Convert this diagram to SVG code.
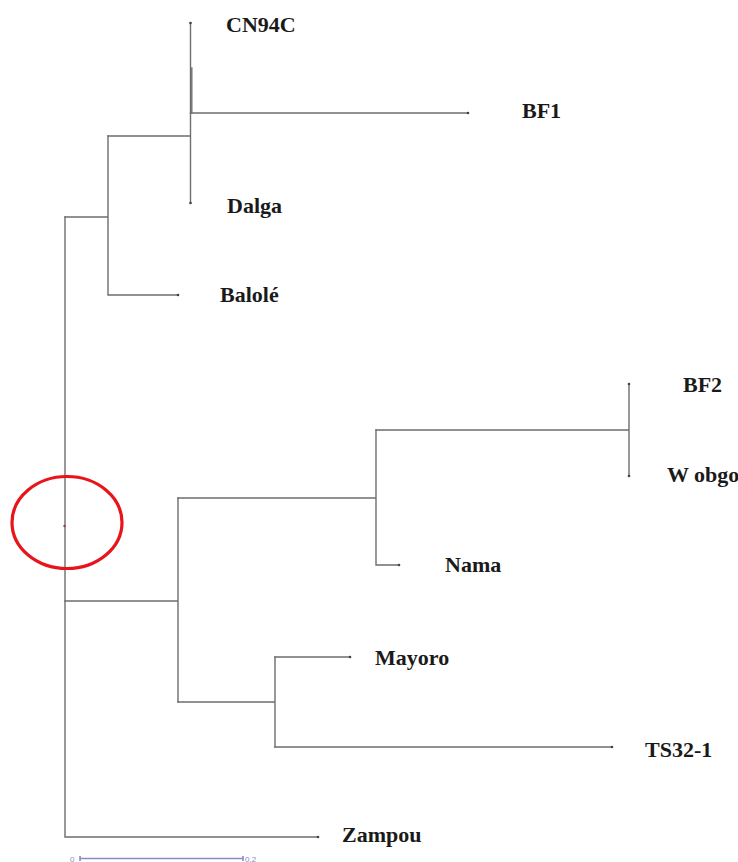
<svg xmlns="http://www.w3.org/2000/svg" width="738" height="862" viewBox="0 0 738 862">
  <style>
    .br { fill: none; stroke: #6e6e6e; stroke-width: 1.4; stroke-linecap: square; }
    .tip { fill: #444; }
    .lbl { font-family: "Liberation Serif", "Times New Roman", serif; font-weight: bold; font-size: 22px; fill: #1a1a1a; }
    .scale { stroke: #8a8ac8; stroke-width: 1.6; fill: none; }
    .scale-t { font-family: "Liberation Sans", Arial, sans-serif; font-size: 8px; fill: #8a8ac8; }
  </style>
  <rect width="738" height="862" fill="#ffffff"/>

  <!-- tree branches -->
  <g id="connectors">
    <!-- root spine -->
    <path class="br" d="M65,217 V837 H318"/>
    <!-- upper clade -->
    <path class="br" d="M65,217 H108 M108,136 V295 H178"/>
    <path class="br" d="M108,136 H190.5 M190.5,23 V203"/>
    <path class="br" d="M191.8,68 V113"/>
    <path class="br" d="M190.5,113 H468"/>
    <!-- lower clade -->
    <path class="br" d="M65,601 H178 M178,498 V702"/>
    <path class="br" d="M178,498 H376 M376,430 V565 H399"/>
    <path class="br" d="M376,430 H629 M629,384 V476"/>
    <path class="br" d="M178,702 H275 M275,657 V747"/>
    <path class="br" d="M275,657 H350 M275,747 H612"/>
  </g>

  <!-- leaf tip marks -->
  <g id="tips">
    <circle class="tip" cx="190.5" cy="23" r="1.3"/>
    <circle class="tip" cx="468" cy="113" r="1.3"/>
    <circle class="tip" cx="190.5" cy="203" r="1.3"/>
    <circle class="tip" cx="178" cy="295" r="1.3"/>
    <circle class="tip" cx="629" cy="384" r="1.3"/>
    <circle class="tip" cx="629" cy="476" r="1.3"/>
    <circle class="tip" cx="399" cy="565" r="1.3"/>
    <circle class="tip" cx="350" cy="657" r="1.3"/>
    <circle class="tip" cx="612" cy="747" r="1.3"/>
    <circle class="tip" cx="318" cy="837" r="1.3"/>
  </g>

  <!-- taxa -->
  <g id="CN94C"><text class="lbl" x="226" y="32">CN94C</text></g>
  <g id="BF1"><text class="lbl" x="522" y="118">BF1</text></g>
  <g id="Dalga"><text class="lbl" x="227" y="213">Dalga</text></g>
  <g id="Balole"><text class="lbl" x="220" y="302">Balolé</text></g>
  <g id="BF2"><text class="lbl" x="683" y="392">BF2</text></g>
  <g id="Wobgo"><text class="lbl" x="667" y="482">W obgo</text></g>
  <g id="Nama"><text class="lbl" x="445" y="572">Nama</text></g>
  <g id="Mayoro"><text class="lbl" x="375" y="665">Mayoro</text></g>
  <g id="TS32-1"><text class="lbl" x="645" y="757">TS32-1</text></g>
  <g id="Zampou"><text class="lbl" x="342" y="842">Zampou</text></g>

  <!-- root highlight -->
  <g id="root-mark">
    <ellipse cx="67" cy="522.5" rx="55" ry="46" fill="none" stroke="#e8141a" stroke-width="3.2"/>
    <circle cx="64.5" cy="526" r="1.2" fill="#b03030"/>
  </g>

  <!-- scale bar -->
  <g id="scale-bar">
    <path class="scale" d="M80,858.5 H243 M80,856 V861 M243,856 V861"/>
    <text class="scale-t" x="70" y="861.5">0</text>
    <text class="scale-t" x="245" y="861.5">0.2</text>
  </g>
</svg>
